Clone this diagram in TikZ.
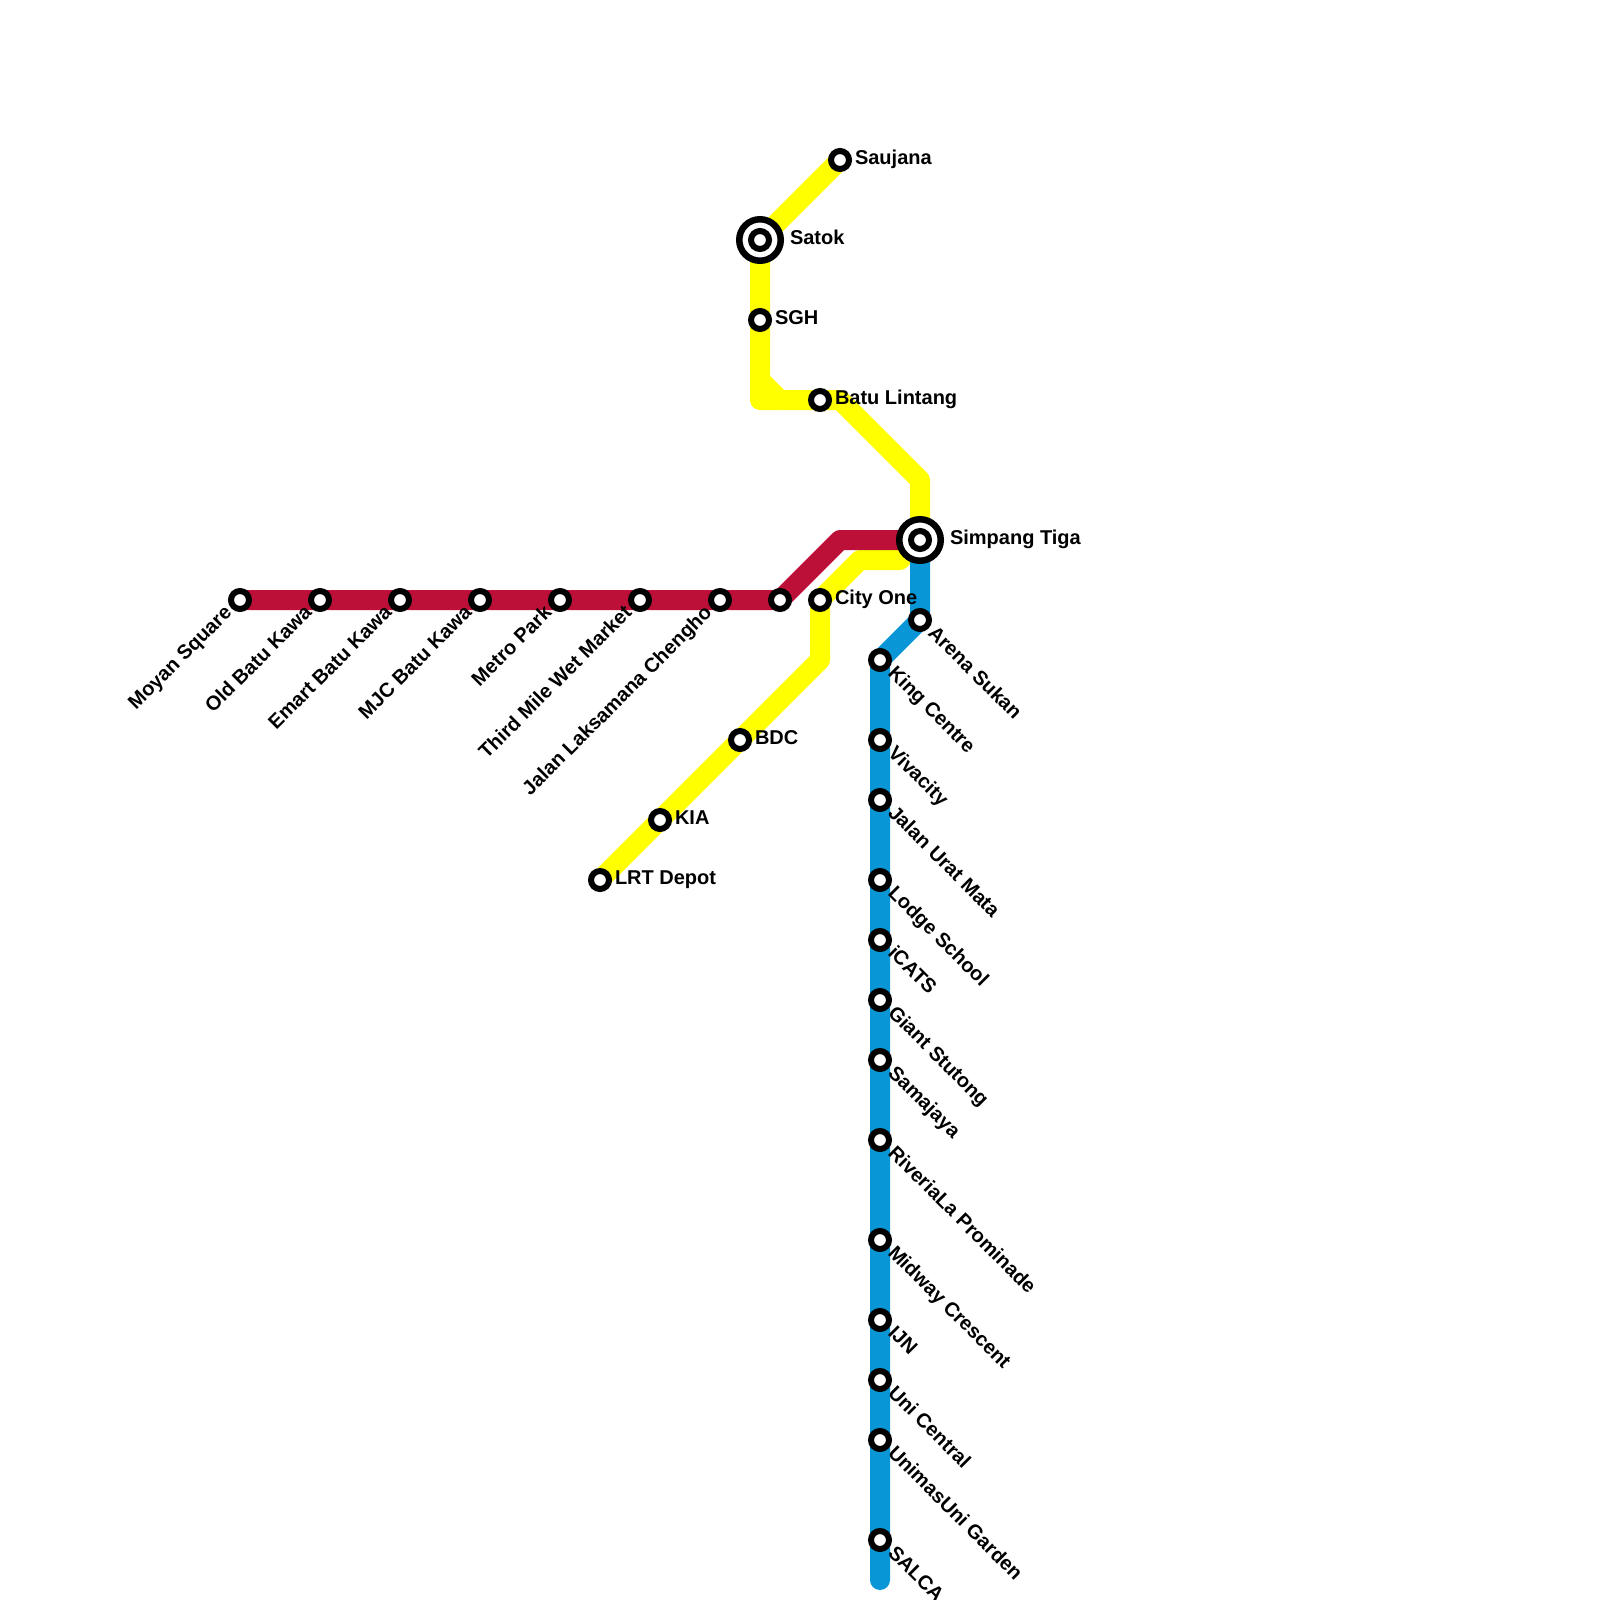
\documentclass[tikz,border=0pt]{standalone}
\usepackage{fontspec}
\setmainfont{Liberation Sans}
\usetikzlibrary{backgrounds}
\definecolor{redline}{HTML}{BD1038}
\definecolor{blueline}{HTML}{0896D7}
\definecolor{yellowline}{HTML}{FFFF00}
\tikzset{
  stn/.style={circle,draw=black,fill=white,line width=6pt,minimum size=18pt,inner sep=0pt},
  bigstn/.style={circle,draw=black,fill=white,line width=6.5pt,minimum size=41.5pt,inner sep=0pt},
  metroline/.style={line width=20pt,line cap=round,line join=round},
  lbl/.style={inner sep=0pt,outer sep=0pt,text=black,font=\bfseries\fontsize{20}{22}\selectfont},
  lblE/.style={lbl,anchor=base west},
  lblDR/.style={lbl,anchor=base west,rotate=-45},
  lblDL/.style={lbl,anchor=base east,rotate=45}
}
% station + label helpers
\newcommand{\stE}[4]{\node[stn] (#1) at (#2,#3) {};
  \node[lblE] (#1l) at ([shift={(15,4.8)}]#1.center) {#4};}
\newcommand{\stDR}[4]{\node[stn] (#1) at (#2,#3) {};
  \node[lblDR] (#1l) at ([shift={(7.2,14.0)}]#1.center) {#4};}
\newcommand{\stDL}[4]{\node[stn] (#1) at (#2,#3) {};
  \node[lblDL] (#1l) at ([shift={(-7.2,14.0)}]#1.center) {#4};}
\newcommand{\stBig}[4]{\node[bigstn] (#1) at (#2,#3) {};
  \node[stn] (#1i) at (#1.center) {};
  \node[lblE] (#1l) at ([shift={(30,4.8)}]#1.center) {#4};}
\begin{document}
\begin{tikzpicture}[x=1pt,y=-1pt]
\useasboundingbox (0,0) rectangle (1600,1600);
% red line stations
\stDL{moyan}{240}{600}{Moyan Square}
\stDL{oldbk}{320}{600}{Old Batu Kawa}
\stDL{emart}{400}{600}{Emart Batu Kawa}
\stDL{mjc}{480}{600}{MJC Batu Kawa}
\stDL{metro}{560}{600}{Metro Park}
\stDL{third}{640}{600}{Third Mile Wet Market}
\stDL{jalanl}{720}{600}{Jalan Laksamana Chengho}
\node[stn] (unnamed) at (780,600) {};
% interchanges
\stBig{satok}{760}{240}{Satok}
\stBig{simpang}{920}{540}{Simpang Tiga}
% yellow line stations
\stE{saujana}{840}{160}{Saujana}
\stE{sgh}{760}{320}{SGH}
\stE{batu}{820}{400}{Batu Lintang}
\stE{cityone}{820}{600}{City One}
\stE{bdc}{740}{740}{BDC}
\stE{kia}{660}{820}{KIA}
\stE{lrt}{600}{880}{LRT Depot}
% blue line stations
\stDR{arena}{920}{620}{Arena Sukan}
\stDR{king}{880}{660}{King Centre}
\stDR{viva}{880}{740}{Vivacity}
\stDR{urat}{880}{800}{Jalan Urat Mata}
\stDR{lodge}{880}{880}{Lodge School}
\stDR{icats}{880}{940}{iCATS}
\stDR{giant}{880}{1000}{Giant Stutong}
\stDR{samajaya}{880}{1060}{Samajaya}
\stDR{riveria}{880}{1140}{RiveriaLa Prominade}
\stDR{midway}{880}{1240}{Midway Crescent}
\stDR{ijn}{880}{1320}{IJN}
\stDR{unic}{880}{1380}{Uni Central}
\stDR{unimas}{880}{1440}{UnimasUni Garden}
\stDR{salca}{880}{1540}{SALCA}
% bends
\coordinate (y1) at (760,400);
\coordinate (y1a) at (760,380);
\coordinate (y1b) at (780,400);
\coordinate (y2) at (840,400);
\coordinate (y3) at (920,480);
\coordinate (y4) at (900,560);
\coordinate (y5) at (860,560);
\coordinate (y6) at (820,660);
\coordinate (r1) at (840,540);
\coordinate (bend) at (880,1580);
\begin{pgfonlayer}{background}
  \draw[metroline,yellowline] (saujana.center) -- (satok.center) -- (sgh.center) -- (y1) -- (batu.center) -- (y2) -- (y3) -- (simpang.center) -- (y4) -- (y5) -- (cityone.center) -- (y6) -- (bdc.center) -- (kia.center) -- (lrt.center);
  \draw[metroline,yellowline] (y1a) -- (y1b);
  \draw[metroline,redline] (moyan.center) -- (unnamed.center) -- (r1) -- (simpang.center);
  \draw[metroline,blueline] (simpang.center) -- (arena.center) -- (king.center) -- (bend);
\end{pgfonlayer}
\end{tikzpicture}
\end{document}
